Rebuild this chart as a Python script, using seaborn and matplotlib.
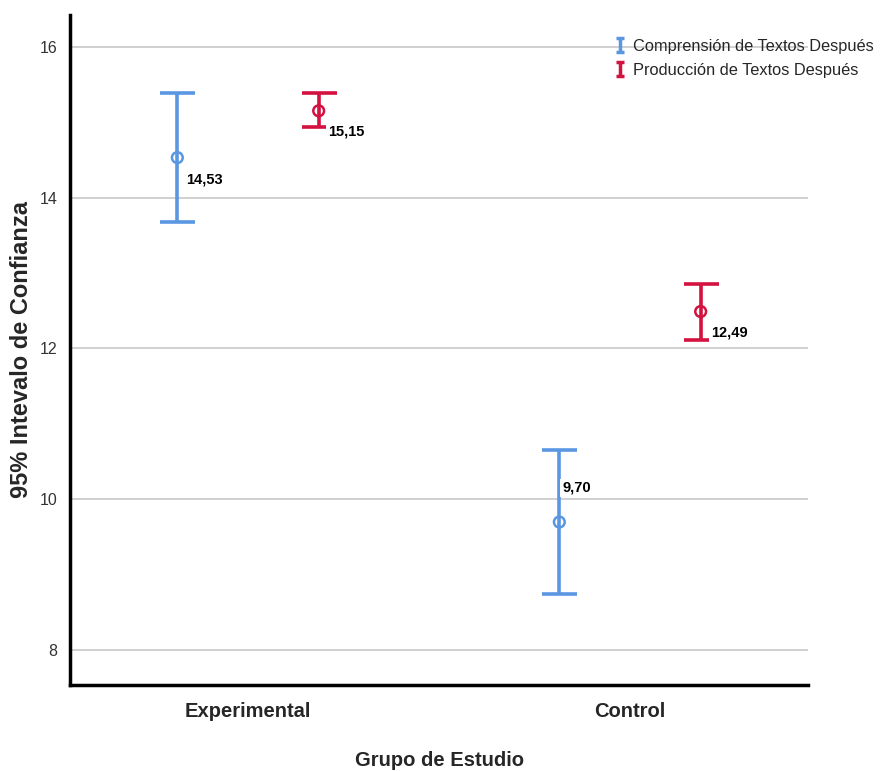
import matplotlib
matplotlib.use("Agg")
import matplotlib.pyplot as plt
from matplotlib.lines import Line2D
from matplotlib.path import Path
import seaborn as sns
import pandas as pd
import numpy as np

grupos = ["Experimental", "Control"]
series = ["Comprensión de Textos Después", "Producción de Textos Después"]
medias_comp = [14.53, 9.70]
inf_comp = [13.68, 8.75]
sup_comp = [15.38, 10.66]
medias_prod = [15.15, 12.49]
inf_prod = [14.94, 12.11]
sup_prod = [15.38, 12.86]
etiquetas_comp = ["14,53", "9,70"]
etiquetas_prod = ["15,15", "12,49"]
yticks = [8, 10, 12, 14, 16]

colores = {series[0]: "#5A97E3", series[1]: "#D3123F"}
dodge = {series[0]: -0.185, series[1]: 0.185}

rows = []
for s, m, lo, hi, lab in [(series[0], medias_comp, inf_comp, sup_comp, etiquetas_comp),
                          (series[1], medias_prod, inf_prod, sup_prod, etiquetas_prod)]:
    for i, g in enumerate(grupos):
        rows.append(dict(grupo=g, serie=s, media=m[i], inf=lo[i], sup=hi[i],
                         etiqueta=lab[i], pos=i + dodge[s]))
df = pd.DataFrame(rows)

sns.set_theme(style="white")
plt.rcParams["font.family"] = ["Liberation Sans", "DejaVu Sans"]

fig = plt.figure(figsize=(8.8, 7.71), dpi=100)
ax = fig.add_axes([70 / 880, 1 - 685 / 771, 738 / 880, 670 / 771])

ax.set_ylim(7.54, 16.42)
ax.set_xlim(-0.466, 1.466)
ax.set_yticks(yticks)
ax.set_yticklabels([str(t) for t in yticks])
ax.yaxis.grid(True, color="#c8c8c8", linewidth=1.2)
ax.set_axisbelow(True)

for s in series:
    d = df[df.serie == s]
    ax.errorbar(d.pos, d.media, yerr=[d.media - d.inf, d.sup - d.media],
                fmt="none", ecolor=colores[s], elinewidth=2.6, capsize=12.6,
                capthick=2.6, zorder=3)

sns.scatterplot(data=df, x="pos", y="media", hue="serie", palette=colores,
                ax=ax, s=60, marker="o", linewidth=1.8,
                legend=False, zorder=4)
for coll in ax.collections:
    fc = coll.get_facecolors()
    if len(fc):
        coll.set_edgecolors(fc)
        coll.set_facecolors("none")

offsets = {("Comprensión de Textos Después", "Experimental"): (6.5, -15.8),
           ("Producción de Textos Después", "Experimental"): (7.0, -15.2),
           ("Producción de Textos Después", "Control"): (7.5, -15.2),
           ("Comprensión de Textos Después", "Control"): (2.0, 24.5)}
for _, r in df.iterrows():
    dx, dy = offsets[(r.serie, r.grupo)]
    ax.annotate(r.etiqueta, (r.pos, r.media), xytext=(dx, dy),
                textcoords="offset points", ha="left", va="center",
                fontsize=10.5, fontweight="bold", color="black", zorder=5,
                bbox=dict(facecolor="white", edgecolor="none", pad=1.8))

ax.set_xticks([0, 1])
ax.set_xticklabels(grupos, fontsize=14.5, fontweight="bold")
ax.tick_params(axis="x", length=0, pad=12)
ax.tick_params(axis="y", length=0, pad=9, labelsize=11.5, labelcolor="#333333")

ax.set_xlabel("Grupo de Estudio", fontsize=14.5, fontweight="bold", labelpad=22)
ax.set_ylabel("95% Intevalo de Confianza", fontsize=17, fontweight="bold", labelpad=5)

for side in ["top", "right"]:
    ax.spines[side].set_visible(False)
for side in ["left", "bottom"]:
    ax.spines[side].set_color("black")
    ax.spines[side].set_linewidth(2.5)

ibeam = Path([(-0.55, 1), (0.55, 1), (0, 1), (0, -1), (-0.55, -1), (0.55, -1)],
             [Path.MOVETO, Path.LINETO, Path.MOVETO, Path.LINETO, Path.MOVETO, Path.LINETO])
handles = [Line2D([], [], linestyle="none", marker=ibeam, markersize=10,
                  markeredgewidth=2.5, color=colores[s]) for s in series]
fig.legend(handles, series, loc="upper left", bbox_to_anchor=(605 / 880, 1 - 31 / 771),
           frameon=False, handlelength=0.8, handletextpad=0.4,
           labelspacing=0.55, borderpad=0, prop={"size": 11.8})

fig.savefig("out.png", dpi=100)
